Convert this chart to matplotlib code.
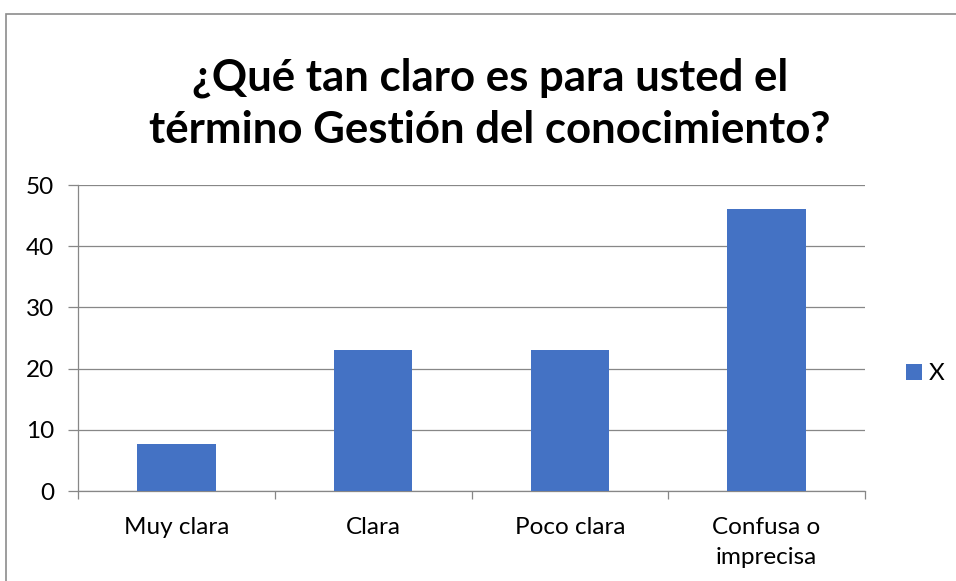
import matplotlib
matplotlib.use("Agg")
import matplotlib.pyplot as plt
from matplotlib.patches import Rectangle

categories = ["Muy clara", "Clara", "Poco clara", "Confusa o\nimprecisa"]
values = [7.69, 23.08, 23.08, 46.15]
series_name = "X"
title = "¿Qué tan claro es para usted el\ntérmino Gestión del conocimiento?"
yticks = [0, 10, 20, 30, 40, 50]

plt.rcParams['font.family'] = ['Lato', 'DejaVu Sans']
W, H = 956, 581
fig = plt.figure(figsize=(W/100, H/100), dpi=100)
ax = fig.add_axes([78/W, 1-491/H, (865-78)/W, (491-185)/H])

color = "#4472C4"
x = list(range(len(categories)))
ax.bar(x, values, width=0.4, color=color, label=series_name, zorder=3)
ax.set_xlim(-0.5, len(categories)-0.5)
ax.set_ylim(0, 50)
ax.set_yticks(yticks)
ax.set_yticklabels([str(t) for t in yticks], fontsize=17.5)
ax.yaxis.grid(True, color="#878787", linewidth=0.9, zorder=0)
ax.set_xticks([i - 0.5 for i in range(len(categories)+1)], minor=False)
ax.set_xticklabels([])
ax.set_xticks(x, minor=True)
ax.set_xticklabels(categories, minor=True, fontsize=17.5, linespacing=1.5, va='top')
ax.tick_params(axis='x', which='minor', length=0, pad=19)
ax.tick_params(axis='x', which='major', length=6, color="#878787", width=0.9)
ax.tick_params(axis='y', length=7, color="#878787", width=0.9, pad=10)
for s in ["top", "right"]:
    ax.spines[s].set_visible(False)
for s in ["left", "bottom"]:
    ax.spines[s].set_color("#878787")
    ax.spines[s].set_linewidth(0.9)

fig.text(490/W, 1-104/H, title, ha='center', va='center', fontsize=31.5,
         fontweight='bold', linespacing=1.35)

leg = fig.legend(handles=ax.patches[:1], labels=[series_name],
                 loc='center left', bbox_to_anchor=(906/W, 1-374/H),
                 frameon=False, fontsize=17.5, handlelength=0.65,
                 handleheight=0.65, handletextpad=0.3, borderpad=0,
                 borderaxespad=0)

fig.patches.append(Rectangle((6/W, -0.2), 1.2, 1.2-14/H, transform=fig.transFigure,
                             fill=False, edgecolor="#8c8c8c", linewidth=1.2))

fig.savefig("out.png", dpi=100)
